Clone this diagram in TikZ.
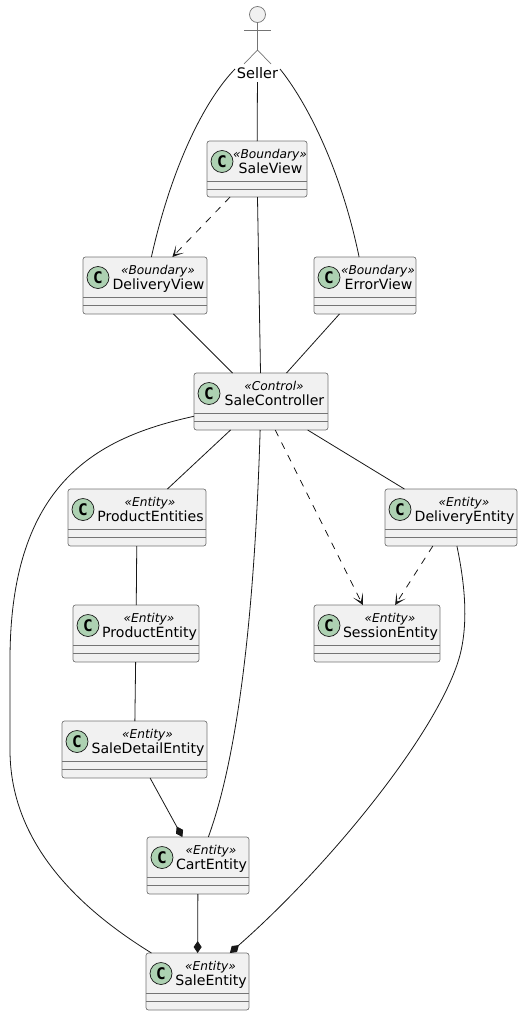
\documentclass[tikz,border=0pt]{standalone}
\usepackage{fontspec}
\setmainfont{DejaVu Sans}
\newfontfamily\spotfont[BoldFont={DejaVu Sans Mono Bold}]{DejaVu Sans Mono}
\usetikzlibrary{arrows.meta,calc}
\definecolor{umlline}{HTML}{181818}
\definecolor{umlfill}{HTML}{F1F1F1}
\definecolor{umlspot}{HTML}{ADD1B2}
\tikzset{
  classbox/.style={draw=umlline!60,fill=umlfill,line width=0.7pt,rounded corners=2.5pt,inner sep=0pt,outer sep=0pt},
  compline/.style={draw=umlline!60,line width=0.7pt},
  spot/.style={circle,draw=umlline,fill=umlspot,line width=0.7pt,minimum size=22pt,inner sep=0pt,font=\fontsize{16}{16}\selectfont\spotfont\bfseries},
  stereo/.style={anchor=base,inner sep=0pt,text=black,font=\fontsize{12.2}{14}\selectfont\itshape},
  cname/.style={anchor=base,inner sep=0pt,text=black,font=\fontsize{14.1}{16}\selectfont},
  actorline/.style={draw=umlline!60,line width=0.7pt},
  link/.style={draw=umlline,line width=0.8pt},
  dep/.style={link,dashed,dash pattern=on 7pt off 7pt,-{Stealth[length=11pt,width=11pt,inset=7pt]}},
  comp/.style={link,-{Diamond[length=12pt,width=8pt]}}
}
\newcommand{\umlclass}[7]{%
  \pgfmathsetmacro{\cx}{(#2+#4)/2}
  \pgfmathsetmacro{\cy}{(#3+#5)/2}
  \pgfmathsetmacro{\bw}{#4-#2}
  \pgfmathsetmacro{\bh}{#5-#3}
  \pgfmathsetmacro{\tx}{(#2+#4+27)/2}
  \pgfmathsetmacro{\sx}{\tx-0.5}
  \node[classbox,minimum width=\bw pt,minimum height=\bh pt] (#1) at (\cx,\cy) {};
  \draw[compline] ($(#1.north west)+(0,40.5)$) -- ($(#1.north east)+(0,40.5)$);
  \draw[compline] ($(#1.north west)+(0,48.5)$) -- ($(#1.north east)+(0,48.5)$);
  \node[spot] (#1-spot) at (#2+15,#3+20.5) {C};
  \node[stereo] (#1-stereo) at (\sx,#3+17) {«#6»};
  \node[cname] (#1-name) at (\tx,#3+32.5) {#7};
}
\begin{document}
\begin{tikzpicture}[x=1pt,y=-1pt]
\useasboundingbox (0,0) rectangle (522,1015);
% actor
\node[circle,draw=umlline!60,fill=umlfill,line width=0.7pt,minimum size=16pt,inner sep=0pt] (head) at (257.5,14.5) {};
\coordinate (hip) at (257.5,50);
\coordinate (armL) at (244,30);
\coordinate (armR) at (271,30);
\coordinate (legL) at (244,64);
\coordinate (legR) at (271,64);
\draw[actorline] (head) -- (hip);
\draw[actorline] (armL) -- (armR);
\draw[actorline] (legL) -- (hip) -- (legR);
\node[inner sep=0pt,text=black,font=\fontsize{14.5}{16}\selectfont,minimum height=17pt] (seller) at (257.5,73.5) {Seller};
\coordinate (sellerL) at (235,69);
\coordinate (sellerR) at (280,69);
% classes
\umlclass{SaleView}{207}{141}{307}{197}{Boundary}{SaleView}
\umlclass{DeliveryView}{83}{257}{207}{314}{Boundary}{DeliveryView}
\umlclass{ErrorView}{314}{257}{416}{314}{Boundary}{ErrorView}
\umlclass{SaleController}{194}{373}{328}{430}{Control}{SaleController}
\umlclass{ProductEntities}{68}{489}{206}{546}{Entity}{ProductEntities}
\umlclass{DeliveryEntity}{385}{489}{517}{546}{Entity}{DeliveryEntity}
\umlclass{ProductEntity}{73}{605}{199}{662}{Entity}{ProductEntity}
\umlclass{SessionEntity}{314}{605}{440}{662}{Entity}{SessionEntity}
\umlclass{SaleDetailEntity}{62}{721}{207}{778}{Entity}{SaleDetailEntity}
\umlclass{CartEntity}{147}{837}{249}{894}{Entity}{CartEntity}
\umlclass{SaleEntity}{146}{953}{249}{1010}{Entity}{SaleEntity}
% connectors
\draw[link] (seller) -- (SaleView);
\draw[link] (sellerL) .. controls (205,100) and (172,165) .. (DeliveryView);
\draw[link] (sellerR) .. controls (305,100) and (340,165) .. (ErrorView);
\draw[dep] (SaleView) -- (DeliveryView);
\draw[link] (SaleView) -- (SaleController);
\draw[link] (DeliveryView) -- (SaleController);
\draw[link] (ErrorView) -- (SaleController);
\draw[link] (SaleController) -- (ProductEntities);
\draw[link] (SaleController) -- (DeliveryEntity);
\draw[dep] (SaleController) -- (SessionEntity);
\draw[dep] (DeliveryEntity) -- (SessionEntity);
\draw[link] (ProductEntities) -- (ProductEntity);
\draw[link] (ProductEntity) -- (SaleDetailEntity);
\draw[comp] (SaleDetailEntity) -- (CartEntity);
\draw[comp] (CartEntity) -- (SaleEntity);
\draw[link] (SaleController) .. controls (255,600) and (240,750) .. (CartEntity);
\coordinate (leftA) at (10,660);
\coordinate (leftB) at (10,750);
\draw[link] (SaleController) .. controls (100,437) and (10,480) .. (leftA) -- (leftB) .. controls (10,850) and (90,915) .. (SaleEntity);
\coordinate (rightA) at (460,655);
\draw[comp] (DeliveryEntity) .. controls (464,580) and (469,620) .. (rightA) .. controls (440,730) and (330,865) .. (SaleEntity);
\end{tikzpicture}
\end{document}
